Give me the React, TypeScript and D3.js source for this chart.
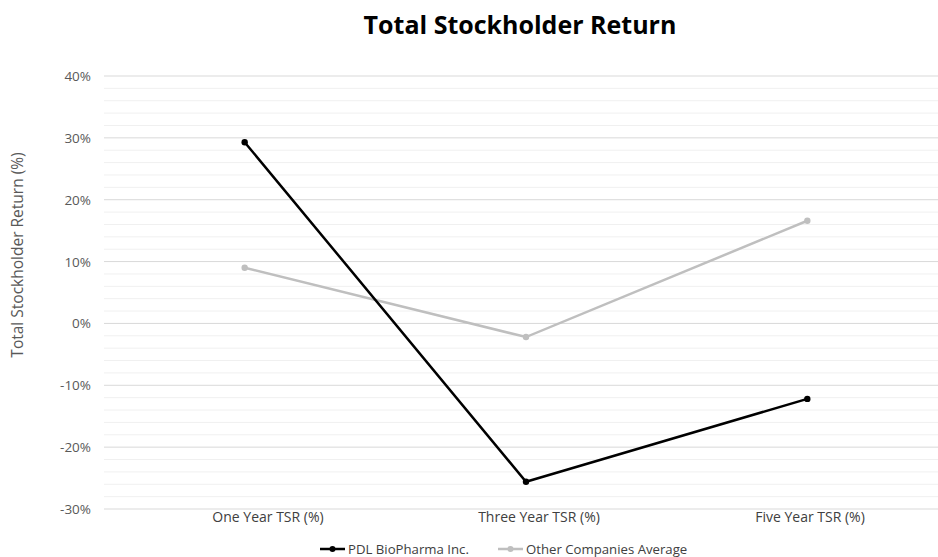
import React from "react";
import * as d3 from "d3";

const categories = ["One Year TSR (%)", "Three Year TSR (%)", "Five Year TSR (%)"];
const pdlValues = [29.3, -25.6, -12.2];
const otherValues = [9.0, -2.2, 16.6];
const seriesNames = ["PDL BioPharma Inc.", "Other Companies Average"];
const majorTicks = [-30, -20, -10, 0, 10, 20, 30, 40];
const minorTicks = d3.range(-30, 41, 2);

const W = 938;
const H = 557;
const FONT = "'Open Sans', 'Noto Sans', sans-serif";

export default function App() {
  const x = d3.scaleBand<string>().domain(categories).range([104, 948]);
  const xLabel = d3.scalePoint<string>().domain(categories).range([268, 810]);
  const y = d3.scaleLinear().domain([-30, 40]).range([509, 76]);
  const cx = (c: string) => (x(c) as number) + x.bandwidth() / 2;
  const line = d3
    .line<number>()
    .x((_, i) => cx(categories[i]))
    .y((d) => y(d));
  const series = [
    { name: seriesNames[0], values: pdlValues, color: "#000000" },
    { name: seriesNames[1], values: otherValues, color: "#bfbfbf" },
  ];
  return (
    <svg
      width={W}
      height={H}
      style={{ position: "absolute", left: 0, top: 0, background: "#fff" }}
      fontFamily={FONT}
    >
      <text x={520} y={34} textAnchor="middle" fontSize={25} fontWeight="bold" fill="#000">
        Total Stockholder Return
      </text>
      {minorTicks
        .filter((t) => t % 10 !== 0)
        .map((t) => (
          <line key={"m" + t} x1={104} x2={W} y1={y(t)} y2={y(t)} stroke="#f0f0f0" strokeWidth={1} />
        ))}
      {majorTicks.map((t) => (
        <line key={"M" + t} x1={104} x2={W} y1={y(t)} y2={y(t)} stroke="#d9d9d9" strokeWidth={1} />
      ))}
      {majorTicks.map((t) => (
        <text key={"t" + t} x={91} y={y(t) + 5} textAnchor="end" fontSize={13.5} fill="#595959">
          {t + "%"}
        </text>
      ))}
      <text
        transform={`translate(23, 255) rotate(-90)`}
        textAnchor="middle"
        fontSize={15.5}
        fill="#595959"
      >
        Total Stockholder Return (%)
      </text>
      {categories.map((c) => (
        <text key={c} x={xLabel(c)} y={522} textAnchor="middle" fontSize={14} fill="#404040">
          {c}
        </text>
      ))}
      {series
        .slice()
        .reverse()
        .map((s) => (
          <g key={s.name}>
            <path d={line(s.values) || ""} fill="none" stroke={s.color} strokeWidth={2.5} />
            {s.values.map((v, i) => (
              <circle key={i} cx={cx(categories[i])} cy={y(v)} r={3.2} fill={s.color} />
            ))}
          </g>
        ))}
      {series.map((s, i) => {
        const lx = i === 0 ? 320 : 498;
        return (
          <g key={"lg" + s.name}>
            <line x1={lx} x2={lx + 25} y1={549} y2={549} stroke={s.color} strokeWidth={2.5} />
            <circle cx={lx + 12.5} cy={549} r={3} fill={s.color} />
            <text x={lx + 28} y={553.5} fontSize={13.2} fill="#404040">
              {s.name}
            </text>
          </g>
        );
      })}
    </svg>
  );
}
